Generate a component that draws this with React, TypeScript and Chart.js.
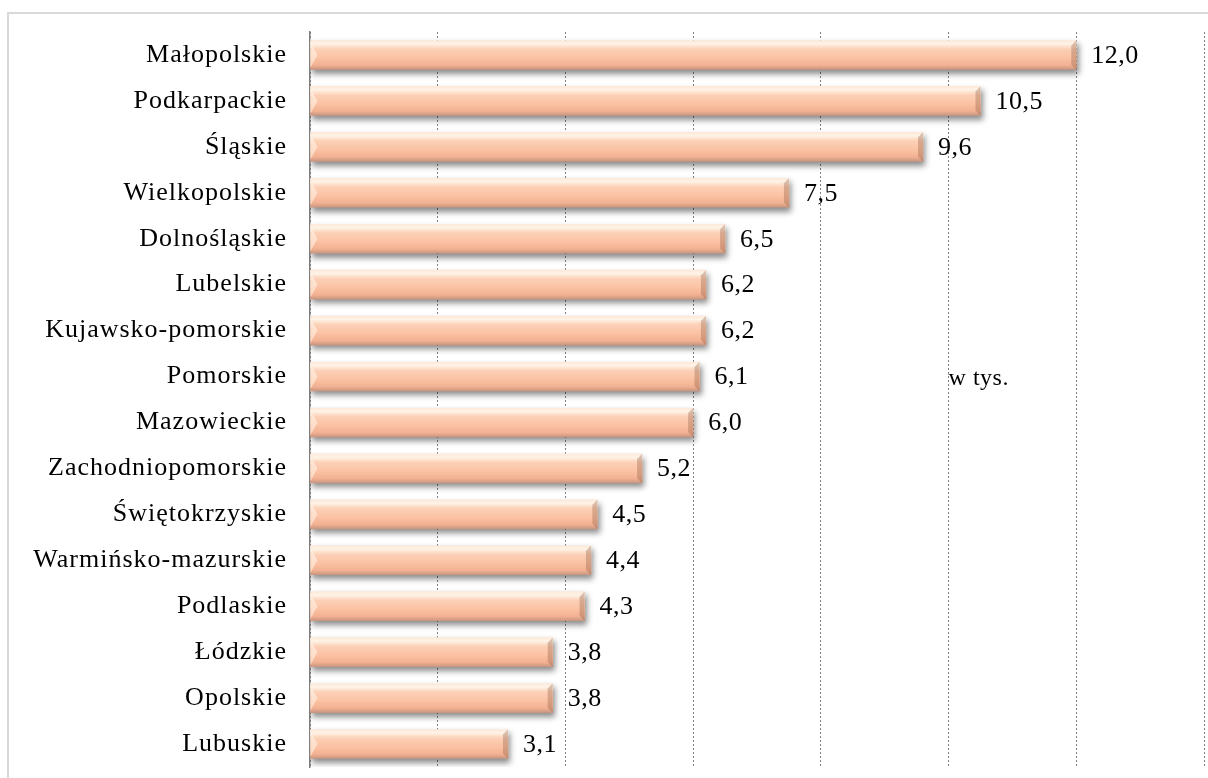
import React, { useEffect, useRef } from "react";
import { Chart, registerables } from "chart.js";

Chart.register(...registerables);

const categories: string[] = [
  "Małopolskie",
  "Podkarpackie",
  "Śląskie",
  "Wielkopolskie",
  "Dolnośląskie",
  "Lubelskie",
  "Kujawsko-pomorskie",
  "Pomorskie",
  "Mazowieckie",
  "Zachodniopomorskie",
  "Świętokrzyskie",
  "Warmińsko-mazurskie",
  "Podlaskie",
  "Łódzkie",
  "Opolskie",
  "Lubuskie",
];

const values: number[] = [12.0, 10.5, 9.6, 7.5, 6.5, 6.2, 6.2, 6.1, 6.0, 5.2, 4.5, 4.4, 4.3, 3.8, 3.8, 3.1];

const axisMin = 0;
const axisMax = 14;
const axisStep = 2;
const unitLabel = "w tys.";
const unitLabelValue = 10;
const unitLabelIndex = 7;

const FONT = "'Liberation Serif', 'Times New Roman', serif";
const BAR_THICK = 29;

const fmt = (v: number) => v.toFixed(1).replace(".", ",");

export default function App() {
  const ref = useRef<HTMLCanvasElement | null>(null);

  useEffect(() => {
    if (!ref.current) return;

    const framePlugin = {
      id: "frame",
      beforeDraw(chart: any) {
        const ctx = chart.ctx;
        ctx.save();
        ctx.fillStyle = "#ffffff";
        ctx.fillRect(0, 0, chart.width, chart.height);
        ctx.strokeStyle = "#d9d9d9";
        ctx.lineWidth = 2;
        ctx.strokeRect(8, 13, chart.width + 20, chart.height + 20);
        ctx.restore();
        (ctx as any).letterSpacing = "1px";
      },
    };

    const shadowPlugin = {
      id: "barShadow",
      beforeDatasetDraw(chart: any) {
        const ctx = chart.ctx;
        ctx.save();
        ctx.shadowColor = "rgba(0,0,0,0.45)";
        ctx.shadowBlur = 6;
        ctx.shadowOffsetX = 2;
        ctx.shadowOffsetY = 4;
      },
      afterDatasetDraw(chart: any) {
        chart.ctx.restore();
      },
    };

    const decoPlugin = {
      id: "deco",
      afterDatasetsDraw(chart: any) {
        const ctx = chart.ctx;
        const meta = chart.getDatasetMeta(0);
        ctx.save();
        meta.data.forEach((el: any, i: number) => {
          const top = el.y - el.height / 2;
          const bottom = el.y + el.height / 2;
          const left = el.base;
          const right = el.x;
          const b = 5;
          ctx.fillStyle = "rgba(150,95,70,0.35)";
          ctx.beginPath();
          ctx.moveTo(right, top);
          ctx.lineTo(right, bottom);
          ctx.lineTo(right - b, bottom - b);
          ctx.lineTo(right - b, top + b);
          ctx.closePath();
          ctx.fill();
          ctx.fillStyle = "rgba(255,245,235,0.55)";
          ctx.beginPath();
          ctx.moveTo(left, top + 2);
          ctx.lineTo(left + b + 2, el.y);
          ctx.lineTo(left, bottom - 2);
          ctx.closePath();
          ctx.fill();
          ctx.fillStyle = "#000000";
          ctx.font = `26px ${FONT}`;
          (ctx as any).letterSpacing = "0.5px";
          ctx.textAlign = "left";
          ctx.textBaseline = "middle";
          ctx.fillText(fmt(values[i]), right + 15, el.y + 1);
        });
        const xs = chart.scales.x;
        const ys = chart.scales.y;
        ctx.font = `24px ${FONT}`;
        (ctx as any).letterSpacing = "0.5px";
        ctx.fillStyle = "#000000";
        ctx.textAlign = "left";
        ctx.textBaseline = "middle";
        ctx.fillText(unitLabel, xs.getPixelForValue(unitLabelValue), ys.getPixelForValue(unitLabelIndex) + 2);
        ctx.restore();
      },
    };

    const chart = new Chart(ref.current, {
      type: "bar",
      data: {
        labels: categories,
        datasets: [
          {
            data: values,
            barThickness: BAR_THICK,
            backgroundColor: (c: any) => {
              const chartObj = c.chart;
              const ys = chartObj.scales?.y;
              if (!ys || c.dataIndex === undefined) return "#f9bfa0";
              const yc = ys.getPixelForValue(c.dataIndex);
              if (!isFinite(yc)) return "#f9bfa0";
              const g = chartObj.ctx.createLinearGradient(0, yc - BAR_THICK / 2, 0, yc + BAR_THICK / 2);
              g.addColorStop(0, "#fde9da");
              g.addColorStop(0.12, "#fef3e6");
              g.addColorStop(0.3, "#fcd0b6");
              g.addColorStop(0.6, "#fbc2a3");
              g.addColorStop(0.85, "#f2b192");
              g.addColorStop(1, "#c99680");
              return g;
            },
            borderWidth: 0,
            borderSkipped: false,
          },
        ],
      },
      options: {
        indexAxis: "y",
        responsive: true,
        maintainAspectRatio: false,
        animation: false,
        events: [],
        layout: { padding: { left: 0, right: 4, top: 32, bottom: 11 } },
        plugins: {
          legend: { display: false },
          tooltip: { enabled: false },
          title: { display: false },
        },
        scales: {
          x: {
            type: "linear",
            min: axisMin,
            max: axisMax,
            ticks: { display: false, stepSize: axisStep },
            grid: {
              display: true,
              color: "#7f7f7f",
              lineWidth: 1,
              drawTicks: false,
            },
            border: { display: false, dash: [2, 2] },
            afterFit: (s: any) => {
              s.height = 0;
              s.paddingLeft = 0;
              s.paddingRight = 0;
            },
          },
          y: {
            type: "category",
            ticks: {
              color: "#000000",
              font: { family: FONT, size: 26 },
              padding: 23,
              autoSkip: false,
            },
            grid: { display: true, color: "rgba(0,0,0,0)", drawTicks: false },
            border: { display: true, color: "#7f7f7f", width: 1.5 },
            afterFit: (s: any) => {
              s.width = 310;
              s.paddingTop = 0;
              s.paddingBottom = 0;
            },
          },
        },
      },
      plugins: [framePlugin, shadowPlugin, decoPlugin],
    } as any);

    chart.update();

    return () => chart.destroy();
  }, []);

  return (
    <div style={{ position: "fixed", left: 0, top: 0, width: 1208, height: 778 }}>
      <canvas ref={ref} />
    </div>
  );
}
